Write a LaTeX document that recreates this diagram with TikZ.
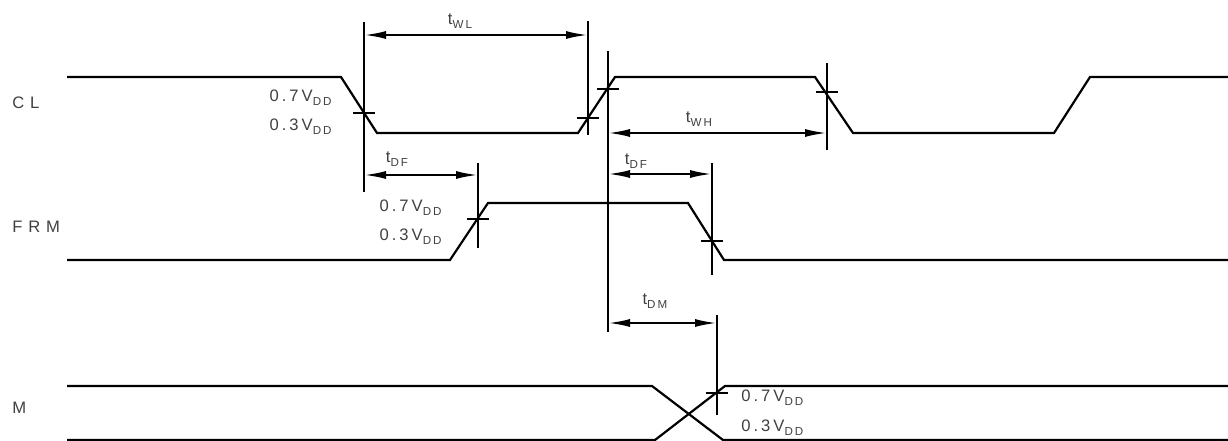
\documentclass[tikz,border=0pt]{standalone}
\usepackage{fontspec}
\setmainfont{Liberation Sans}
\newfontfamily\siglbl[LetterSpace=35]{Liberation Sans}
\newfontfamily\lvllbl[LetterSpace=18]{Liberation Sans}
\usetikzlibrary{arrows.meta}
\newcommand{\lowsub}[1]{\raisebox{-0.45ex}{\fontsize{5.8}{6}\selectfont #1}}
\tikzset{
  wave/.style={line width=1.1pt, line join=miter},
  markline/.style={line width=1.1pt},
  dim/.style={line width=1.1pt, >={Latex[length=11pt,width=4pt]}, <->},
  sig/.style={anchor=west, font=\siglbl\fontsize{8.3}{9}\selectfont, text=black!75, inner sep=0pt},
  lvl/.style={font=\lvllbl\fontsize{8.3}{9}\selectfont, text=black!75, inner sep=0pt},
  tlbl/.style={font=\lvllbl\fontsize{8.3}{9}\selectfont, text=black!75, inner sep=0pt},
}
\begin{document}
\begin{tikzpicture}[x=0.5pt, y=-0.5pt]
    \useasboundingbox (0,0) rectangle (1228,440);
    \draw[wave] (67,77) -- (341,77) -- (377,133) -- (578,133) -- (615,77) -- (815,77)
      -- (853,133) -- (1054,133) -- (1090,77) -- (1228,77);
    \draw[wave] (67,260) -- (450,260) -- (488,203) -- (688,203) -- (724,260) -- (1228,260);
    \draw[wave] (67,386) -- (652,386) -- (723,440) -- (1228,440);
    \draw[wave] (67,440) -- (655,440) -- (725,386) -- (1228,386);
    \node[sig] (cl) at (12,103) {CL};
    \node[sig] (frm) at (12,227) {FRM};
    \node[sig] (m) at (12,408) {M};
    \foreach \x/\ytop/\ybot/\yt [count=\i] in {364/22/192/113, 588/21/135/118,
        608/51/332/89, 827/63/150/92, 478/163/248/219, 712/163/275/241, 717/315/415/393} {
      \coordinate (v\i t) at (\x,\ytop);
      \coordinate (v\i b) at (\x,\ybot);
      \coordinate (k\i) at (\x,\yt);
      \draw[markline] (v\i t) -- (v\i b);
      \draw[markline] (k\i) +(-11,0) -- +(11,0);
    }
    \draw[dim] (v1t |- 0,35) -- (v2t |- 0,35);
    \draw[dim] (v3t |- 0,133) -- (v4t |- 0,133);
    \draw[dim] (v1t |- 0,175) -- (v5t |- 0,175);
    \draw[dim] (v3t |- 0,174) -- (v6t |- 0,174);
    \draw[dim] (v3t |- 0,323) -- (v7t |- 0,323);
    \node[tlbl] (twl) at (460,21) {t\lowsub{WL}};
    \node[tlbl] (twh) at (699,119) {t\lowsub{WH}};
    \node[tlbl] (tdfa) at (397,159) {t\lowsub{DF}};
    \node[tlbl] (tdfb) at (636,161) {t\lowsub{DF}};
    \node[tlbl] (tdm) at (655,301) {t\lowsub{DM}};
    \node[lvl, anchor=east] (clhi) at (332,98) {0.7V\lowsub{DD}};
    \node[lvl, anchor=east] (cllo) at (332,127) {0.3V\lowsub{DD}};
    \node[lvl, anchor=east] (frmhi) at (442,208) {0.7V\lowsub{DD}};
    \node[lvl, anchor=east] (frmlo) at (442,237) {0.3V\lowsub{DD}};
    \node[lvl, anchor=west] (mhi) at (741,398) {0.7V\lowsub{DD}};
    \node[lvl, anchor=west] (mlo) at (741,428) {0.3V\lowsub{DD}};
  \end{tikzpicture}
\end{document}
